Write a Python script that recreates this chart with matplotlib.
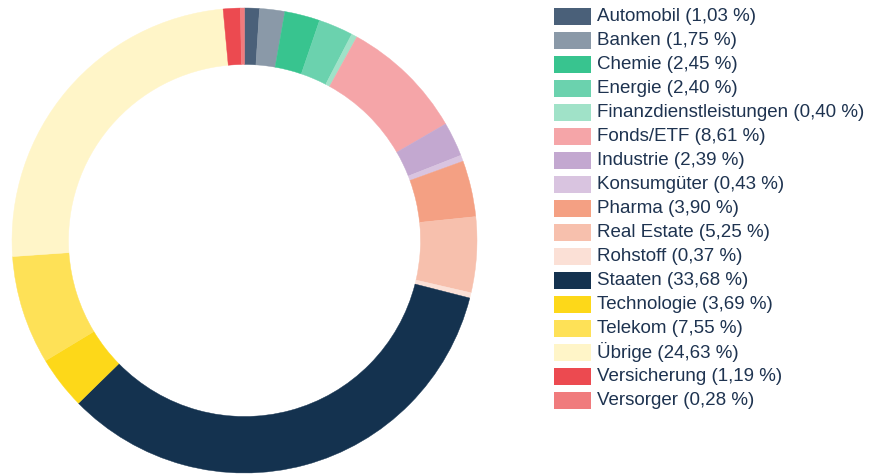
import matplotlib
matplotlib.use('Agg')
import matplotlib.pyplot as plt
from matplotlib.patches import Rectangle

labels = ['Automobil', 'Banken', 'Chemie', 'Energie', 'Finanzdienstleistungen',
          'Fonds/ETF', 'Industrie', 'Konsumgüter', 'Pharma', 'Real Estate',
          'Rohstoff', 'Staaten', 'Technologie', 'Telekom', 'Übrige',
          'Versicherung', 'Versorger']
values = [1.03, 1.75, 2.45, 2.40, 0.40, 8.61, 2.39, 0.43, 3.90, 5.25,
          0.37, 33.68, 3.69, 7.55, 24.63, 1.19, 0.28]
colors = ['#4a6079', '#8a99a8', '#38c48f', '#6bd2ae', '#a0e2c8',
          '#f5a5a8', '#c3a8d0', '#d9c4e0', '#f4a083', '#f7c0ad',
          '#fbe0d6', '#14324f', '#fdd819', '#fee157', '#fff5c8',
          '#ec4a50', '#f07b7d']

W, H = 873, 474
fig = plt.figure(figsize=(W / 100, H / 100), dpi=100)

# donut
ax = fig.add_axes([12 / W, 1 / H, 465 / W, 465 / H])
wedges, _ = ax.pie(values, colors=colors, startangle=90, counterclock=False,
                   radius=1, wedgeprops=dict(width=0.243, linewidth=0.3))
for w, c in zip(wedges, colors):
    w.set_edgecolor(c)
ax.set_xlim(-1, 1)
ax.set_ylim(-1, 1)
ax.axis('off')

# legend drawn in pixel coords
lg = fig.add_axes([0, 0, 1, 1])
lg.set_xlim(0, W)
lg.set_ylim(H, 0)
lg.axis('off')
for i, (name, v, c) in enumerate(zip(labels, values, colors)):
    y = 16 + i * 24
    lg.add_patch(Rectangle((554, y - 8.5), 37, 17, color=c, lw=0))
    txt = f"{name} ({v:.2f} %)".replace('.', ',')
    lg.text(597, y + 0.5, txt, va='center', ha='left', fontsize=13.5,
            family='Liberation Sans', color='#1e3350')

fig.savefig('out.png', dpi=100)
